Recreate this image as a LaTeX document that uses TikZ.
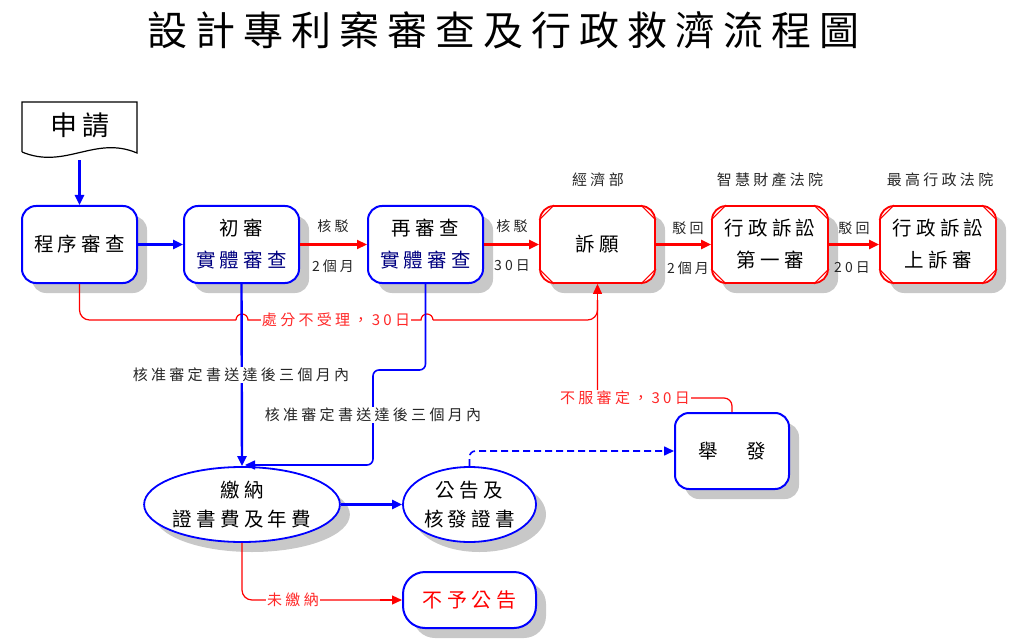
\documentclass[tikz,border=0pt]{standalone}
\usepackage{fontspec}
\setmainfont{Noto Sans CJK TC}
\newfontfamily\cjksp[LetterSpace=22]{Noto Sans CJK TC}
\newfontfamily\cjkti[LetterSpace=20]{Noto Sans CJK TC}
\usetikzlibrary{arrows.meta,shadows,shapes.geometric,calc}
\definecolor{navy}{RGB}{0,0,128}
\definecolor{lred}{RGB}{255,40,40}
\definecolor{shad}{RGB}{200,200,200}
\tikzset{
  shd/.style={drop shadow={shadow xshift=10pt,shadow yshift=-10pt,fill=shad,opacity=1}},
  bluebox/.style={draw=blue,line width=2pt,rounded corners=14pt,fill=white,shd,
    minimum width=115pt,minimum height=77pt,inner sep=0pt,align=center,
    font=\cjksp\fontsize{19.5}{32}\selectfont},
  redbox/.style={bluebox,draw=red,line width=1.8pt},
  ell/.style={ellipse,draw=blue,line width=1.8pt,fill=white,shd,inner sep=0pt,align=center,
    font=\cjksp\fontsize{19.5}{29}\selectfont},
  elab/.style={font=\cjksp\fontsize{14}{16}\selectfont,text=black!85,inner sep=1pt},
  toplab/.style={font=\cjksp\fontsize{15}{17}\selectfont,text=black!85},
  midlab/.style={font=\cjksp\fontsize{15}{17}\selectfont,text=black!85,fill=white,inner sep=1pt},
  redlab/.style={midlab,text=lred},
  barrow/.style={draw=blue,line width=2.4pt,-{Triangle[length=10pt,width=9pt]}},
  rarrow/.style={draw=red,line width=2.2pt,-{Triangle[length=10pt,width=9pt]}},
  rline/.style={draw=red,line width=1.2pt},
}
\begin{document}
\begin{tikzpicture}[x=1pt,y=-1pt]
\useasboundingbox (0,0) rectangle (1032,644);
% title
\node[font=\cjkti\fontsize{40}{44}\selectfont] (title) at (503,30) {設計專利案審查及行政救濟流程圖};
% apply (document shape)
\draw[line width=1.2pt,fill=white] (22,152) -- (22,102) -- (137,102) -- (137,153)
  .. controls (95,135) and (65,170) .. (22,152);
\node[minimum width=115pt,minimum height=58pt,inner sep=0pt] (apply) at (79.5,131) {};
\node[font=\cjksp\fontsize{27}{30}\selectfont] (applytxt) at (80,125) {申請};
% top row
\node[bluebox] (proc) at (79.5,244.5) {程序審查};
\node[bluebox] (init) at (241.5,244.5) {初審\\\textcolor{navy}{實體審查}};
\node[bluebox] (re) at (425.5,244.5) {再審查\\\textcolor{navy}{實體審查}};
\node[redbox] (appeal) at (597.5,244.5) {訴願};
\node[redbox,minimum width=116pt] (first) at (770,244.5) {行政訴訟\\第一審};
\node[redbox,minimum width=116pt] (supreme) at (938,244.5) {行政訴訟\\上訴審};
\foreach \n in {appeal,first,supreme}{
  \draw[red,line width=1.1pt] ($(\n.north west)+(0,15)$) -- ($(\n.north west)+(15,0)$);
  \draw[red,line width=1.1pt] ($(\n.north east)+(0,15)$) -- ($(\n.north east)+(-15,0)$);
  \draw[red,line width=1.1pt] ($(\n.south west)+(0,-15)$) -- ($(\n.south west)+(15,0)$);
  \draw[red,line width=1.1pt] ($(\n.south east)+(0,-15)$) -- ($(\n.south east)+(-15,0)$);
}
\node[toplab] (l1) at (598,180) {經濟部};
\node[toplab] (l2) at (770,180) {智慧財產法院};
\node[toplab] (l3) at (940,180) {最高行政法院};
% bottom nodes
\node[ell,minimum width=184pt,minimum height=75pt] (pay) at (242,504.5) {繳納\\證書費及年費};
\node[ell,minimum width=133pt,minimum height=75pt] (pub) at (469.5,504.5) {公告及\\核發證書};
\node[bluebox,minimum width=114pt,minimum height=76pt] (report) at (732,451) {舉　發};
\node[bluebox,minimum width=133pt,minimum height=56pt,rounded corners=22pt,text=red,
  font=\cjksp\fontsize{20}{24}\selectfont] (nopub) at (469.5,600) {不予公告};
% top row arrows
\draw[barrow] (apply.south) -- (proc.north);
\draw[barrow] (proc.east) -- (init.west);
\draw[rarrow] (init.east) -- (re.west);
\draw[rarrow] (re.east) -- (appeal.west);
\draw[rarrow] (appeal.east) -- (first.west);
\draw[rarrow] (first.east) -- (supreme.west);
\node[elab] (e1a) at (333,226) {核駁};
\node[elab] (e1b) at (333,266) {2個月};
\node[elab] (e2a) at (512,226) {核駁};
\node[elab] (e2b) at (512,266) {30日};
\node[elab] (e3a) at (688,228) {駁回};
\node[elab] (e3b) at (688,268) {2個月};
\node[elab] (e4a) at (854,228) {駁回};
\node[elab] (e4b) at (852,268) {20日};
% red rejection line with hops
\draw[rline,rounded corners=10pt] (proc.south) |- (236,320);
\draw[rline] (236,320) arc[start angle=180,end angle=360,radius=6] -- (421,320)
  arc[start angle=180,end angle=360,radius=6];
\draw[rline,rounded corners=10pt] (433,320) -| (597.5,300);
\node[redlab] (rej) at (336,320) {處分不受理，30日};
% objection line
\draw[rline,rounded corners=8pt] (report.north) |- (597.5,398) -- (597.5,300);
\draw[rarrow,line width=1.2pt] (597.5,300) -- (appeal.south);
\node[redlab] (obj) at (625,398) {不服審定，30日};
% blue approval lines
\draw[barrow] (init.south) -- (pay.north);
\node[midlab] (ap1) at (241,375) {核准審定書送達後三個月內};
\draw[barrow,line width=1.6pt,rounded corners=6pt] (re.south) -- (425.5,370) -- (373,370) -- (373,465) -- (245,465);
\node[midlab] (ap2) at (373,415) {核准審定書送達後三個月內};
% bottom arrows
\draw[barrow] (pay.east) -- (pub.west);
\draw[draw=blue,line width=1.6pt,dash pattern=on 7pt off 4pt,-{Triangle[length=10pt,width=9pt]},rounded corners=6pt] (pub.north) |- (report.west);
\draw[rline,rounded corners=10pt] (pay.south) |- (380,600);
\draw[rarrow,line width=1.2pt] (380,600) -- (nopub.west);
\node[redlab] (unpaid) at (293,600) {未繳納};
\end{tikzpicture}
\end{document}
